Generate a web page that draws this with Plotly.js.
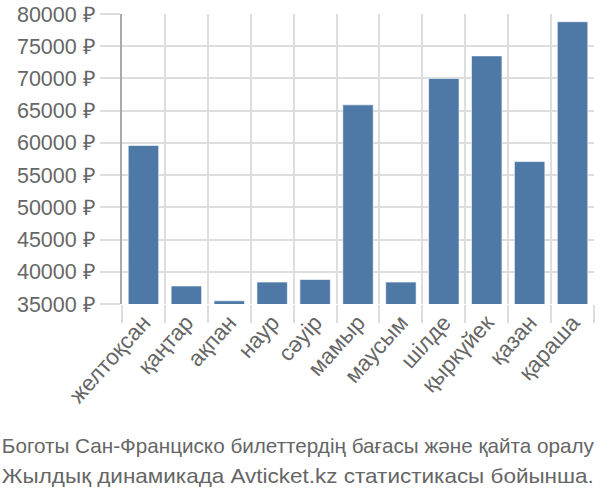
<!DOCTYPE html>
<html><head><meta charset="utf-8">
<script src="https://cdn.plot.ly/plotly-3.0.1.min.js"></script>
<style>body{margin:0;padding:0;background:#fff}#chart{width:600px;height:500px}</style>
</head><body><div id="chart"></div>
<script>
const months = ["желтоқсан","қаңтар","ақпан","наур","сәуір","мамыр","маусым","шілде","қыркүйек","қазан","қараша"];
const prices = [59600, 37800, 35500, 38400, 38800, 65900, 38400, 70000, 73500, 57100, 78800];
const yTicks = [35000,40000,45000,50000,55000,60000,65000,70000,75000,80000];
const yTickLabels = yTicks.map(v => v + " ₽");
const titleLines = ["Боготы Сан-Франциско билеттердің бағасы және қайта оралу", "Жылдық динамикада Avticket.kz статистикасы бойынша."];

const trace = {
  type: "bar", x: months, y: prices,
  marker: {color: "#4e79a7", line: {color: "rgba(255,255,255,0.6)", width: 1}},
  hoverinfo: "none"
};
const layout = {
  width: 600, height: 500,
  margin: {l: 122, r: 6, t: 14, b: 196, pad: 0},
  paper_bgcolor: "#fff", plot_bgcolor: "#fff",
  bargap: 0.29,
  showlegend: false,
  font: {family: "Liberation Sans, Arial, sans-serif", color: "#666"},
  xaxis: {
    type: "category", tickson: "boundaries", tickangle: -48,
    showgrid: true, gridcolor: "#ddd", gridwidth: 2,
    ticks: "outside", ticklen: 18, tickcolor: "#ddd", tickwidth: 2,
    showline: false, zeroline: false,
    tickfont: {size: 22.5, color: "#666"}
  },
  yaxis: {
    range: [35000, 80000], tickvals: yTicks, ticktext: yTickLabels,
    showgrid: true, gridcolor: "#ddd", gridwidth: 2,
    ticks: "outside", ticklen: 20, tickcolor: "#ddd", tickwidth: 2,
    showline: true, linecolor: "#aaa", linewidth: 2, zeroline: false,
    tickfont: {size: 21.5, color: "#666"}
  },
  annotations: titleLines.map((t, i) => ({
    text: t, xref: "paper", yref: "paper", x: (298-122)/472, y: -(142 + i*30)/290,
    xanchor: "center", yanchor: "middle", showarrow: false,
    font: {size: 20.8, color: "#666", family: "Liberation Sans, Arial, sans-serif"}
  }))
};
const gd = document.getElementById("chart");
function squeeze() {
  gd.querySelectorAll(".annotation-text").forEach(el => {
    el.setAttribute("textLength", "592");
    el.setAttribute("lengthAdjust", "spacingAndGlyphs");
  });
}
Plotly.newPlot(gd, [trace], layout, {staticPlot: true}).then(() => {
  squeeze();
  gd.on("plotly_afterplot", squeeze);
  setTimeout(squeeze, 50);
});
</script></body></html>
